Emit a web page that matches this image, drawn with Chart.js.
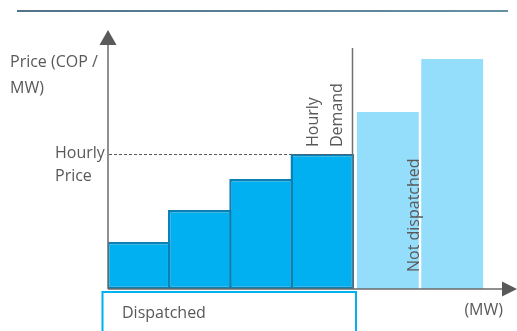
<!DOCTYPE html>
<html>
<head>
<meta charset="utf-8">
<script src="https://cdn.jsdelivr.net/npm/chart.js@4.4.1/dist/chart.umd.min.js"></script>
<style>
  html, body { margin: 0; padding: 0; background: #fff; }
  canvas { display: block; }
</style>
</head>
<body>
<canvas id="merit-chart" width="517" height="331"></canvas>
<script>
// offer blocks along the MW axis and their prices
const dispatchedBlocks = [1, 2, 3, 4];
const dispatchedPrices = [18.1, 30.5, 42.5, 52.1];
const notDispatchedBlocks = [5.07, 6.12];
const notDispatchedPrices = [68.3, 88.8];
const hourlyPrice = 52.1;
const hourlyDemand = 4.5;

const textColor = '#595959';
const fontFamily = '"Open Sans", sans-serif';

const toPoints = (xs, ys) => xs.map((x, i) => ({ x: x, y: ys[i] }));

const annotations = {
  id: 'annotations',
  afterDatasetsDraw(chart) {
    const { ctx, chartArea, scales } = chart;
    const x = scales.x;
    const y = scales.y;
    const priceY = Math.round(y.getPixelForValue(hourlyPrice)) + 0.5;
    const demandX = Math.round(x.getPixelForValue(hourlyDemand)) - 0.5;

    ctx.save();

    // top rule
    const grad = ctx.createLinearGradient(17, 0, 508, 0);
    grad.addColorStop(0, '#17435f');
    grad.addColorStop(1, '#2f6a88');
    ctx.strokeStyle = grad;
    ctx.lineWidth = 1.5;
    ctx.beginPath();
    ctx.moveTo(17, 11);
    ctx.lineTo(508, 11);
    ctx.stroke();

    // hourly price dashed line
    ctx.strokeStyle = textColor;
    ctx.lineWidth = 1;
    ctx.setLineDash([3, 2]);
    ctx.beginPath();
    ctx.moveTo(chartArea.left + 1, priceY);
    ctx.lineTo(demandX, priceY);
    ctx.stroke();
    ctx.setLineDash([]);

    // hourly demand line
    ctx.strokeStyle = '#707070';
    ctx.lineWidth = 1.5;
    ctx.beginPath();
    ctx.moveTo(demandX, 48);
    ctx.lineTo(demandX, chartArea.bottom);
    ctx.stroke();

    // axes with arrows
    const ox = chartArea.left;
    const oy = chartArea.bottom;
    ctx.strokeStyle = '#6b6b6b';
    ctx.fillStyle = '#595959';
    ctx.lineWidth = 1.5;
    ctx.beginPath();
    ctx.moveTo(ox, oy);
    ctx.lineTo(ox, chartArea.top + 12);
    ctx.moveTo(ox, oy);
    ctx.lineTo(chartArea.right, oy);
    ctx.stroke();
    ctx.beginPath();
    ctx.moveTo(ox, chartArea.top);
    ctx.lineTo(ox - 8.5, chartArea.top + 15);
    ctx.lineTo(ox + 8.5, chartArea.top + 15);
    ctx.closePath();
    ctx.fill();
    ctx.beginPath();
    ctx.moveTo(chartArea.right + 14, oy);
    ctx.lineTo(chartArea.right - 1, oy - 7.5);
    ctx.lineTo(chartArea.right - 1, oy + 7.5);
    ctx.closePath();
    ctx.fill();

    // dispatched box
    ctx.strokeStyle = '#00b0f0';
    ctx.lineWidth = 2;
    ctx.strokeRect(102.5, 292, demandX + 3.5 - 102.5, 60);

    // texts
    ctx.fillStyle = textColor;
    ctx.font = '16px ' + fontFamily;
    ctx.textBaseline = 'middle';
    ctx.textAlign = 'left';
    ctx.fillText('Price (COP /', 10, 62);
    ctx.fillText('MW)', 10, 88);
    ctx.fillText('Hourly', 55, priceY - 1);
    ctx.fillText('Price', 55, priceY + 22);
    ctx.fillText('Dispatched', 122, 313);
    ctx.textAlign = 'right';
    ctx.fillText('(MW)', 503, 310);

    const vText = (str, cx, by) => {
      ctx.save();
      ctx.translate(cx, by);
      ctx.rotate(-Math.PI / 2);
      ctx.textAlign = 'left';
      ctx.textBaseline = 'middle';
      ctx.fillText(str, 0, 0);
      ctx.restore();
    };
    vText('Hourly', 313, 147);
    vText('Demand', 337, 147);
    vText('Not dispatched', 414, 272);

    ctx.restore();
  }
};

new Chart(document.getElementById('merit-chart').getContext('2d'), {
  type: 'bar',
  data: {
    datasets: [
      {
        label: 'Dispatched',
        data: toPoints(dispatchedBlocks, dispatchedPrices),
        backgroundColor: '#00b0f0',
        borderColor: '#0a80b4',
        borderWidth: 2.5,
        borderSkipped: false,
        barPercentage: 1.04,
        categoryPercentage: 1,
        grouped: false,
      },
      {
        label: 'Not dispatched',
        data: toPoints(notDispatchedBlocks, notDispatchedPrices),
        backgroundColor: '#95defb',
        borderWidth: 0,
        barPercentage: 1.01,
        categoryPercentage: 1,
        grouped: false,
      },
    ],
  },
  options: {
    responsive: false,
    animation: false,
    layout: { padding: { left: 108, right: 14, top: 30, bottom: 42 } },
    plugins: { legend: { display: false }, tooltip: { enabled: false } },
    scales: {
      x: {
        type: 'linear',
        display: false,
        offset: false,
        min: 0.5,
        max: 6.95,
        // whole-block ticks only, so the bar width follows the block spacing
        afterBuildTicks: (axis) => {
          axis.ticks = [1, 2, 3, 4, 5, 6].map((v) => ({ value: v }));
        },
      },
      y: { display: false, min: 0, max: 100 },
    },
  },
  plugins: [annotations],
});
</script>
</body>
</html>
